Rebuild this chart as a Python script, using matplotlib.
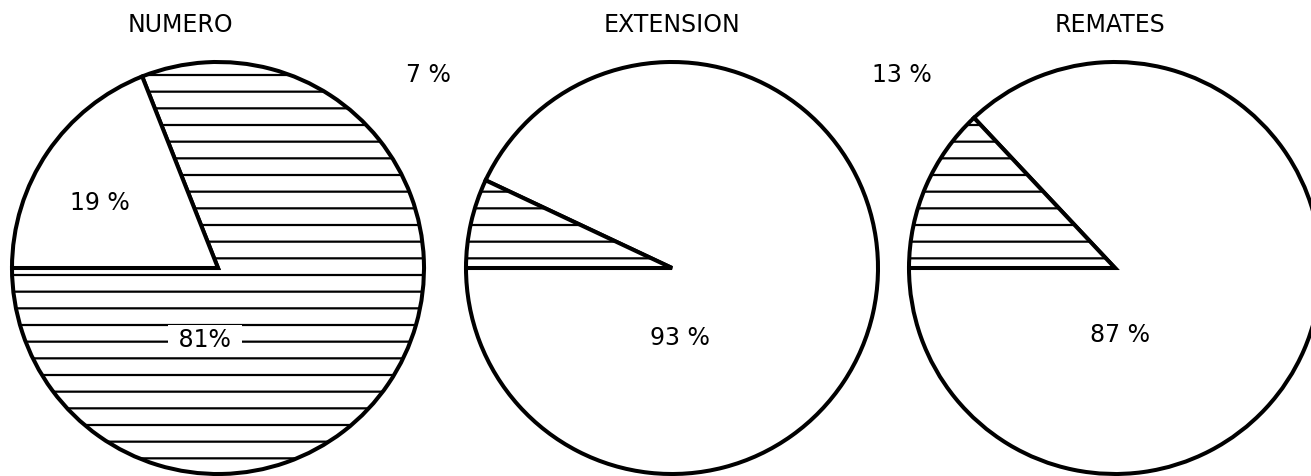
import matplotlib.pyplot as plt

# data
titles = ["NUMERO", "EXTENSION", "REMATES"]
numero = [81, 19]
extension = [93, 7]
remates = [87, 13]
numero_labels = ["81%", "19 %"]
extension_labels = ["93 %", "7 %"]
remates_labels = ["87 %", "13 %"]

W, H = 1311, 476
plt.rcParams['hatch.linewidth'] = 1.6
plt.rcParams['hatch.color'] = 'black'

fig = plt.figure(figsize=(W / 100, H / 100), dpi=100)
ax = fig.add_axes([0, 0, 1, 1])

R = 206
lw = 2.9
font = 'DejaVu Sans'


def draw(vals, hatches, cx, cy):
    wedges, _ = ax.pie(vals, center=(cx, H - cy), radius=R, startangle=180,
                       counterclock=True, colors=['white', 'white'],
                       wedgeprops=dict(edgecolor='black', linewidth=lw),
                       frame=True)
    for w, h in zip(wedges, hatches):
        w.set_hatch(h)
    return wedges


draw(numero, ['-', ''], 218, 268)
draw(extension, ['', '-'], 672, 268)
draw(remates, ['', '-'], 1115, 268)

ax.set_xlim(0, W)
ax.set_ylim(0, H)
ax.set_aspect('equal')
ax.axis('off')

# titles
for t, x in zip(titles, [180, 672, 1110]):
    ax.text(x, H - 25, t, ha='center', va='center', fontsize=17, family=font)

# percent labels
ax.text(205, H - 340, " " + numero_labels[0] + " ", ha='center', va='center',
        fontsize=17, family=font,
        bbox=dict(facecolor='white', edgecolor='none', pad=2))
ax.text(100, H - 203, numero_labels[1], ha='center', va='center',
        fontsize=17, family=font)
ax.text(680, H - 338, extension_labels[0], ha='center', va='center',
        fontsize=17, family=font)
ax.text(428, H - 75, extension_labels[1], ha='center', va='center',
        fontsize=17, family=font)
ax.text(1120, H - 335, remates_labels[0], ha='center', va='center',
        fontsize=17, family=font)
ax.text(902, H - 75, remates_labels[1], ha='center', va='center',
        fontsize=17, family=font)

fig.savefig("out.png", dpi=100)
